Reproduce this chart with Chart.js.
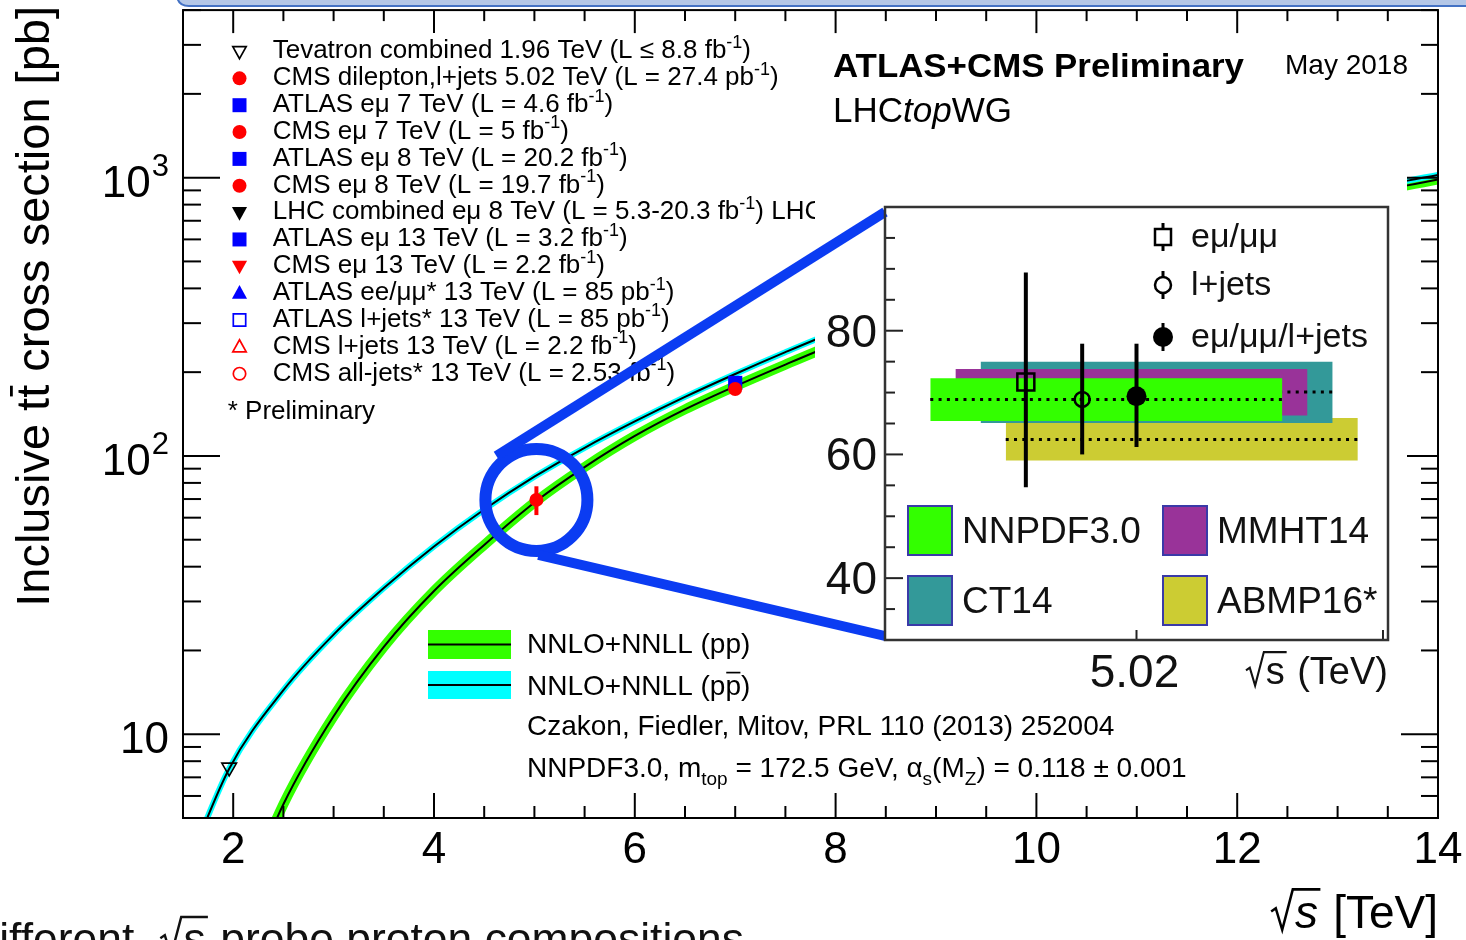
<!DOCTYPE html>
<html lang="en">
<head>
<meta charset="UTF-8">
<title>Inclusive ttbar cross section vs sqrt(s)</title>
<script src="https://cdn.jsdelivr.net/npm/chart.js"></script>
<style>
  html, body { margin: 0; padding: 0; background: #fff; overflow: hidden; }
  #wrap { position: relative; width: 1466px; height: 940px; }
  #mainChart { position: absolute; left: 0; top: 0; }
  #insetChart { position: absolute; left: 815px; top: 170px; }
</style>
</head>
<body>
<div id="wrap">
  <canvas id="mainChart" width="1466" height="940"></canvas>
  <canvas id="insetChart" width="592" height="530"></canvas>
</div>
<script>
// NNLO+NNLL predictions (sqrt(s) in TeV, sigma in pb)
var ppSqrtS = [2.0, 2.5, 3.0, 3.5, 4.0, 4.5, 5.02, 5.5, 6.0, 6.5, 7.0, 7.5, 8.0, 9.0, 10.0, 11.0, 12.0, 13.0, 14.0];
var ppXsec = [2.1, 5.6, 11.6, 20.6, 32.7, 47.9, 68.9, 91.2, 118, 147, 178, 213, 253, 345, 450, 566, 697, 838, 985];
var ppbarSqrtS = [1.5, 1.96, 2.5, 3.0, 3.5, 4.0, 4.5, 5.0, 5.5, 6.0, 6.5, 7.0, 7.5, 8.0, 9.0, 10.0, 11.0, 12.0, 13.0, 14.0];
var ppbarXsec = [3.05, 7.52, 14.4, 22.8, 33.5, 47.3, 64.2, 84.2, 107, 133, 163, 197, 236, 280, 378, 486, 605, 736, 875, 1023];

// measurements visible on the main plot
var tevSqrtS = [1.96], tevXsec = [7.6];
var cms502SqrtS = [5.02], cms502Xsec = [69.5], cms502Lo = [61.3], cms502Hi = [77.8];
var atlas7SqrtS = [7.0], atlas7Xsec = [183];
var cms7SqrtS = [7.0], cms7Xsec = [174];

// axes
var xMajorTicks = [2, 4, 6, 8, 10, 12, 14];
var xMinorStep = 0.5;
var yDecades = [1, 10, 100, 1000];
var yMajorTicks = [10, 100, 1000];
var yLabelBase = ['10', '10', '10'];
var yLabelExp = ['', '2', '3'];

// legend of the main plot
var legendLabels = [
  'Tevatron combined 1.96 TeV (L \u2264 8.8 fb^{-1})',
  'CMS dilepton,l+jets 5.02 TeV (L = 27.4 pb^{-1})',
  'ATLAS e\u03bc 7 TeV (L = 4.6 fb^{-1})',
  'CMS e\u03bc 7 TeV (L = 5 fb^{-1})',
  'ATLAS e\u03bc 8 TeV (L = 20.2 fb^{-1})',
  'CMS e\u03bc 8 TeV (L = 19.7 fb^{-1})',
  'LHC combined e\u03bc 8 TeV (L = 5.3-20.3 fb^{-1}) LHC',
  'ATLAS e\u03bc 13 TeV (L = 3.2 fb^{-1})',
  'CMS e\u03bc 13 TeV (L = 2.2 fb^{-1})',
  'ATLAS ee/\u03bc\u03bc* 13 TeV (L = 85 pb^{-1})',
  'ATLAS l+jets* 13 TeV (L = 85 pb^{-1})',
  'CMS l+jets 13 TeV (L = 2.2 fb^{-1})',
  'CMS all-jets* 13 TeV (L = 2.53 fb^{-1})'
];
var legendMarkers = ['triDownOpen', 'circle', 'square', 'circle', 'square', 'circle', 'triDown',
  'square', 'triDown', 'triUp', 'squareOpen', 'triUpOpen', 'circleOpen'];
var legendColors = ['#000', '#ff0000', '#0000ff', '#ff0000', '#0000ff', '#ff0000', '#000',
  '#0000ff', '#ff0000', '#0000ff', '#0000ff', '#ff0000', '#ff0000'];

// inset: PDF bands at 5.02 TeV
var pdfNames = ['ABMP16*', 'CT14', 'MMHT14', 'NNPDF3.0'];
var pdfColors = ['#cccc33', '#339999', '#993399', '#33ff00'];
var pdfXFrom = [4.76, 4.71, 4.66, 4.61];
var pdfXTo = [5.46, 5.41, 5.36, 5.31];
var pdfLow = [59.0, 65.1, 66.3, 65.4];
var pdfHigh = [65.9, 75.0, 73.8, 72.3];
var pdfCentral = [62.4, 70.1, 70.1, 68.9];

// inset: CMS 5.02 TeV measurements
var inNames = ['e\u03bc/\u03bc\u03bc', 'l+jets', 'e\u03bc/\u03bc\u03bc/l+jets'];
var inX = [4.80, 4.912, 5.02];
var inXsec = [71.7, 68.9, 69.4];
var inLo = [54.7, 60.0, 61.2];
var inHi = [89.4, 77.9, 77.9];
var inYLabels = [40, 60, 80];
var inXTicks = [5.02, 5.51];

var FONT = '"Liberation Sans", Arial, Helvetica, sans-serif';

function xy(xs, ys) {
  return xs.map(function (x, i) { return { x: x, y: ys[i] }; });
}

// tiny markup: ^{sup} _{sub} ~{overline} @{italic} #{radical} ${radical, italic}
function parseRich(str) {
  var segs = [], buf = '', i = 0;
  while (i < str.length) {
    var c = str[i];
    if ('^_~@#$'.indexOf(c) >= 0 && str[i + 1] === '{') {
      if (buf) { segs.push({ t: buf, k: 'n' }); buf = ''; }
      var j = str.indexOf('}', i);
      segs.push({ t: str.slice(i + 2, j), k: c });
      i = j + 1;
    } else { buf += c; i++; }
  }
  if (buf) segs.push({ t: buf, k: 'n' });
  return segs;
}

function drawRich(ctx, str, x, y, size, opt) {
  opt = opt || {};
  var w0 = opt.bold ? 'bold ' : '';
  var segs = parseRich(str);
  function fontFor(k) {
    if (k === '^' || k === '_') return w0 + Math.round(size * 0.68) + 'px ' + FONT;
    if (k === '@' || k === '$') return 'italic ' + w0 + size + 'px ' + FONT;
    return w0 + size + 'px ' + FONT;
  }
  var total = 0;
  segs.forEach(function (s) {
    ctx.font = fontFor(s.k);
    s.tw = ctx.measureText(s.t).width;
    s.w = (s.k === '#' || s.k === '$') ? s.tw + size * 0.6 : s.tw;
    total += s.w;
  });
  var sx = opt.width ? opt.width / total : 1;
  var start = x;
  if (opt.align === 'right') start = x - total * sx;
  if (opt.align === 'center') start = x - total * sx / 2;
  ctx.save();
  ctx.translate(start, y);
  ctx.scale(sx, 1);
  ctx.fillStyle = opt.color || '#000';
  ctx.strokeStyle = opt.color || '#000';
  ctx.textAlign = 'left';
  ctx.textBaseline = 'alphabetic';
  var cx = 0;
  segs.forEach(function (s) {
    ctx.font = fontFor(s.k);
    if (s.k === '#' || s.k === '$') {
      ctx.lineWidth = Math.max(1.5, size * 0.055);
      ctx.beginPath();
      ctx.moveTo(cx + size * 0.03, -size * 0.36);
      ctx.lineTo(cx + size * 0.13, -size * 0.43);
      ctx.lineTo(cx + size * 0.27, size * 0.04);
      ctx.lineTo(cx + size * 0.5, -size * 0.84);
      ctx.lineTo(cx + s.w, -size * 0.84);
      ctx.stroke();
      ctx.fillText(s.t, cx + size * 0.55, 0);
    } else {
      var dy = 0;
      if (s.k === '^') dy = -size * 0.4;
      if (s.k === '_') dy = size * 0.3;
      ctx.fillText(s.t, cx, dy);
      if (s.k === '~') {
        ctx.lineWidth = Math.max(1.5, size * 0.06);
        ctx.beginPath();
        ctx.moveTo(cx + size * 0.03, -size * 0.8);
        ctx.lineTo(cx + s.w - size * 0.02, -size * 0.8);
        ctx.stroke();
      }
    }
    cx += s.w;
  });
  ctx.restore();
  return total * sx;
}

function drawMarker(ctx, kind, x, y, color, r) {
  r = r || 7;
  var open = kind.indexOf('Open') > 0;
  var shape = kind.replace('Open', '');
  if (open) r -= 0.8;
  ctx.save();
  ctx.fillStyle = color;
  ctx.strokeStyle = color;
  ctx.lineWidth = 1.7;
  ctx.beginPath();
  if (shape === 'circle') ctx.arc(x, y, r, 0, Math.PI * 2);
  else if (shape === 'square') ctx.rect(x - r, y - r, 2 * r, 2 * r);
  else if (shape === 'triUp') {
    ctx.moveTo(x, y - r * 1.15); ctx.lineTo(x + r * 1.08, y + r * 0.8); ctx.lineTo(x - r * 1.08, y + r * 0.8); ctx.closePath();
  } else if (shape === 'triDown') {
    ctx.moveTo(x, y + r * 1.15); ctx.lineTo(x + r * 1.08, y - r * 0.8); ctx.lineTo(x - r * 1.08, y - r * 0.8); ctx.closePath();
  }
  if (open) ctx.stroke(); else ctx.fill();
  ctx.restore();
}

function seg(ctx, x0, y0, x1, y1) {
  ctx.beginPath(); ctx.moveTo(x0, y0); ctx.lineTo(x1, y1); ctx.stroke();
}

var mainDecor = {
  id: 'mainDecor',
  beforeDraw: function (chart) {
    var ctx = chart.ctx;
    ctx.save();
    ctx.fillStyle = '#fff';
    ctx.fillRect(0, 0, chart.width, chart.height);
    ctx.restore();
  },
  afterDraw: function (chart) {
    var ctx = chart.ctx, a = chart.chartArea, xs = chart.scales.x, ys = chart.scales.y;
    ctx.save();
    ctx.strokeStyle = '#000';
    ctx.lineWidth = 2;

    // x ticks, bottom and top
    for (var v = xs.min; v <= xs.max + 1e-6; v += xMinorStep) {
      var px = xs.getPixelForValue(v);
      var major = xMajorTicks.indexOf(Math.round(v * 100) / 100) >= 0;
      seg(ctx, px, a.bottom, px, a.bottom - (major ? 25 : 12));
      seg(ctx, px, a.top, px, a.top + (major ? 23 : 11));
    }
    // y ticks, left and right
    yDecades.forEach(function (d) {
      for (var m = 1; m <= 9; m++) {
        var val = m * d;
        if (val < ys.min || val > ys.max) continue;
        var py = ys.getPixelForValue(val);
        seg(ctx, a.left, py, a.left + (m === 1 ? 37 : 18), py);
        seg(ctx, a.right, py, a.right - (m === 1 ? 37 : 17), py);
      }
    });
    ctx.strokeRect(a.left, a.top, a.right - a.left, a.bottom - a.top);

    // tick labels
    ctx.fillStyle = '#000';
    ctx.textBaseline = 'alphabetic';
    xMajorTicks.forEach(function (t) {
      ctx.font = '44px ' + FONT;
      ctx.textAlign = 'center';
      ctx.fillText(String(t), xs.getPixelForValue(t), 863);
    });
    yMajorTicks.forEach(function (t, i) {
      var py = ys.getPixelForValue(t);
      ctx.font = '31px ' + FONT;
      var ew = yLabelExp[i] ? ctx.measureText(yLabelExp[i]).width : 0;
      ctx.font = '44px ' + FONT;
      ctx.textAlign = 'right';
      ctx.fillText(yLabelBase[i], 169 - ew - (ew ? 1 : 0), py + 19);
      if (ew) {
        ctx.font = '31px ' + FONT;
        ctx.textAlign = 'left';
        ctx.fillText(yLabelExp[i], 169 - ew, py - 2);
      }
    });

    // axis titles
    ctx.save();
    ctx.translate(49, 6);
    ctx.rotate(-Math.PI / 2);
    drawRich(ctx, 'Inclusive t~{t} cross section [pb]', 0, 0, 47, { align: 'right' });
    ctx.restore();
    drawRich(ctx, '${s} [TeV]', 1438, 928, 46, { align: 'right' });

    // legend of measurements
    legendLabels.forEach(function (t, i) {
      var cy = 51.5 + 26.85 * i;
      drawMarker(ctx, legendMarkers[i], 239.5, cy, legendColors[i], 7);
      drawRich(ctx, t, 272.7, cy + 6.8, 26);
    });
    drawRich(ctx, '* Preliminary', 227.7, 419, 26);

    // header
    drawRich(ctx, 'ATLAS+CMS Preliminary', 833, 77, 33, { bold: true, width: 411 });
    drawRich(ctx, 'May 2018', 1285, 74, 28);
    drawRich(ctx, 'LHC@{top}WG', 833, 122, 35);

    // theory legend
    ctx.fillStyle = '#33ff00';
    ctx.fillRect(428, 630, 83, 29);
    ctx.fillStyle = '#00ffff';
    ctx.fillRect(428, 671, 83, 28);
    ctx.lineWidth = 2;
    seg(ctx, 428, 644.5, 511, 644.5);
    seg(ctx, 428, 685, 511, 685);
    drawRich(ctx, 'NNLO+NNLL (pp)', 527, 653, 28);
    drawRich(ctx, 'NNLO+NNLL (p~{p})', 527, 695, 28);
    drawRich(ctx, 'Czakon, Fiedler, Mitov, PRL 110 (2013) 252004', 527, 735, 28);
    drawRich(ctx, 'NNPDF3.0, m_{top} = 172.5 GeV, \u03b1_{s}(M_{Z}) = 0.118 \u00b1 0.001', 527, 777, 28);

    // white pad behind the inset
    ctx.fillStyle = '#fff';
    ctx.fillRect(815, 170, 592, 530);

    // zoom lens around the 5.02 TeV point
    var cx = xs.getPixelForValue(cms502SqrtS[0]), cy = ys.getPixelForValue(cms502Xsec[0]);
    ctx.strokeStyle = '#0b3cf2';
    ctx.lineWidth = 12;
    ctx.beginPath();
    ctx.arc(cx, cy, 51, 0, Math.PI * 2);
    ctx.stroke();
    ctx.lineWidth = 10;
    seg(ctx, cx - 40, cy - 44, 885, 212);
    seg(ctx, cx + 2, cy + 55, 885, 636);

    // slide header strip and caption cut by the window
    var x0 = 177, y1 = 6, r = 12;
    ctx.beginPath();
    ctx.moveTo(x0, -30); ctx.lineTo(1500, -30); ctx.lineTo(1500, y1); ctx.lineTo(x0 + r, y1);
    ctx.quadraticCurveTo(x0, y1, x0, y1 - r); ctx.closePath();
    ctx.fillStyle = '#b4c7e7';
    ctx.fill();
    ctx.strokeStyle = '#4472c4';
    ctx.lineWidth = 2;
    ctx.stroke();

    ctx.font = '44px ' + FONT;
    var dW = ctx.measureText('d').width;
    drawRich(ctx, 'different  #{s} probe proton compositions', -dW - 1, 954, 44, { color: '#111', width: 745 + dW });
    ctx.restore();
  }
};

new Chart(document.getElementById('mainChart'), {
  type: 'line',
  data: {
    datasets: [
      { label: 'NNLO+NNLL (pp) band', data: xy(ppSqrtS, ppXsec), borderColor: '#33ff00', borderWidth: 10,
        pointRadius: 0, cubicInterpolationMode: 'monotone', clip: 0, order: 10 },
      { label: 'NNLO+NNLL (ppbar) band', data: xy(ppbarSqrtS, ppbarXsec), borderColor: '#00ffff', borderWidth: 6,
        pointRadius: 0, cubicInterpolationMode: 'monotone', clip: 0, order: 9 },
      { label: 'NNLO+NNLL (pp)', data: xy(ppSqrtS, ppXsec), borderColor: '#000', borderWidth: 2,
        pointRadius: 0, cubicInterpolationMode: 'monotone', clip: 0, order: 8 },
      { label: 'NNLO+NNLL (ppbar)', data: xy(ppbarSqrtS, ppbarXsec), borderColor: '#000', borderWidth: 2,
        pointRadius: 0, cubicInterpolationMode: 'monotone', clip: 0, order: 7 },
      { label: 'CMS 5.02 error', data: [{ x: cms502SqrtS[0], y: cms502Lo[0] }, { x: cms502SqrtS[0], y: cms502Hi[0] }],
        borderColor: '#ff0000', borderWidth: 4, pointRadius: 0, order: 4 },
      { label: 'Tevatron', data: xy(tevSqrtS, tevXsec), showLine: false, pointStyle: 'triangle', pointRotation: 180,
        pointRadius: 8.5, pointBorderWidth: 1.6, pointBorderColor: '#000', pointBackgroundColor: 'rgba(0,0,0,0)', order: 2 },
      { label: 'ATLAS 7', data: xy(atlas7SqrtS, atlas7Xsec), showLine: false, pointStyle: 'rect',
        pointRadius: 10, pointBorderWidth: 0, pointBackgroundColor: '#0000ff', order: 3 },
      { label: 'CMS 7', data: xy(cms7SqrtS, cms7Xsec), showLine: false, pointStyle: 'circle',
        pointRadius: 7, pointBorderWidth: 0, pointBackgroundColor: '#ff0000', order: 1 },
      { label: 'CMS 5.02', data: xy(cms502SqrtS, cms502Xsec), showLine: false, pointStyle: 'circle',
        pointRadius: 7, pointBorderWidth: 0, pointBackgroundColor: '#ff0000', order: 1 }
    ]
  },
  options: {
    responsive: false,
    animation: false,
    devicePixelRatio: 1,
    events: [],
    layout: { padding: { left: 183, top: 8, right: 28, bottom: 122 } },
    scales: {
      x: { type: 'linear', min: 1.5, max: 14, display: false },
      y: { type: 'logarithmic', min: 5, max: 4000, display: false }
    },
    plugins: { legend: { display: false }, tooltip: { enabled: false } }
  },
  plugins: [mainDecor]
});

// inset chart
var OX = 815, OY = 170;
var insetSets = [];
pdfNames.forEach(function (n, i) {
  var base = 40 - i * 3;
  insetSets.push({ label: n + ' high', data: [{ x: pdfXFrom[i], y: pdfHigh[i] }, { x: pdfXTo[i], y: pdfHigh[i] }],
    borderColor: 'rgba(0,0,0,0)', borderWidth: 0, pointRadius: 0, backgroundColor: pdfColors[i], fill: '+1', order: base });
  insetSets.push({ label: n + ' low', data: [{ x: pdfXFrom[i], y: pdfLow[i] }, { x: pdfXTo[i], y: pdfLow[i] }],
    borderColor: 'rgba(0,0,0,0)', borderWidth: 0, pointRadius: 0, fill: false, order: base - 1 });
  insetSets.push({ label: n + ' central', data: [{ x: pdfXFrom[i], y: pdfCentral[i] }, { x: pdfXTo[i], y: pdfCentral[i] }],
    borderColor: '#000', borderWidth: 3, borderDash: [3, 5.3], borderCapStyle: 'butt', pointRadius: 0, fill: false, order: base - 2 });
});
inNames.forEach(function (n, i) {
  insetSets.push({ label: n + ' error', data: [{ x: inX[i], y: inLo[i] }, { x: inX[i], y: inHi[i] }],
    borderColor: '#000', borderWidth: 4, pointRadius: 0, fill: false, order: 5 });
});
var inStyles = [
  { pointStyle: 'rect', pointRadius: 12, pointBackgroundColor: 'rgba(0,0,0,0)', pointBorderWidth: 2.5 },
  { pointStyle: 'circle', pointRadius: 7.5, pointBackgroundColor: 'rgba(0,0,0,0)', pointBorderWidth: 2.5 },
  { pointStyle: 'circle', pointRadius: 10, pointBackgroundColor: '#000', pointBorderWidth: 0 }
];
inNames.forEach(function (n, i) {
  insetSets.push(Object.assign({ label: n, data: [{ x: inX[i], y: inXsec[i] }], showLine: false,
    pointBorderColor: '#000', order: 1 }, inStyles[i]));
});

var insetDecor = {
  id: 'insetDecor',
  afterDraw: function (chart) {
    var ctx = chart.ctx, a = chart.chartArea, xs = chart.scales.x, ys = chart.scales.y;
    ctx.save();
    ctx.strokeStyle = '#222';
    ctx.lineWidth = 2;
    for (var v = 35; v < ys.max; v += 5) {
      var py = ys.getPixelForValue(v);
      seg(ctx, a.left, py, a.left + (inYLabels.indexOf(v) >= 0 ? 18 : 10), py);
    }
    inXTicks.forEach(function (t) {
      var px = xs.getPixelForValue(t);
      seg(ctx, px, a.bottom, px, a.bottom - 10);
    });
    ctx.strokeStyle = '#333';
    ctx.lineWidth = 2.5;
    ctx.strokeRect(a.left, a.top, a.right - a.left, a.bottom - a.top);

    ctx.fillStyle = '#111';
    ctx.font = '46px ' + FONT;
    ctx.textAlign = 'right';
    inYLabels.forEach(function (t) {
      ctx.fillText(String(t), a.left - 8, ys.getPixelForValue(t) + 16);
    });
    ctx.textAlign = 'center';
    ctx.fillText('5.02', xs.getPixelForValue(inXTicks[0]) - 2, a.bottom + 47);
    drawRich(ctx, '#{s} (TeV)', a.right, a.bottom + 44, 38, { align: 'right', color: '#111' });

    // legend of measurements
    var lx = 1163 - OX;
    var rows = [237 - OY, 285 - OY, 337 - OY];
    ctx.strokeStyle = '#000';
    ctx.lineWidth = 3;
    rows.forEach(function (ry, i) {
      seg(ctx, lx, ry - 14, lx, ry + 14);
      drawRich(ctx, inNames[i], 1191 - OX, ry + 10, 34, { color: '#111' });
    });
    ctx.lineWidth = 2.5;
    ctx.fillStyle = '#fff';
    ctx.fillRect(lx - 8, rows[0] - 8, 16, 16);
    ctx.strokeRect(lx - 8, rows[0] - 8, 16, 16);
    ctx.beginPath(); ctx.arc(lx, rows[1], 8, 0, Math.PI * 2); ctx.fill(); ctx.stroke();
    ctx.fillStyle = '#000';
    ctx.beginPath(); ctx.arc(lx, rows[2], 10, 0, Math.PI * 2); ctx.fill();

    // legend of PDF sets
    var cells = { 'NNPDF3.0': [908, 506], 'MMHT14': [1163, 506], 'CT14': [908, 576], 'ABMP16*': [1163, 576] };
    pdfNames.forEach(function (n, i) {
      var c = cells[n];
      ctx.fillStyle = pdfColors[i];
      ctx.fillRect(c[0] - OX, c[1] - OY, 44, 49);
      ctx.strokeStyle = '#3a3aa8';
      ctx.lineWidth = 2;
      ctx.strokeRect(c[0] - OX, c[1] - OY, 44, 49);
      drawRich(ctx, n, c[0] + 54 - OX, c[1] + 37 - OY, 37, { color: '#111' });
    });
    ctx.restore();
  }
};

new Chart(document.getElementById('insetChart'), {
  type: 'line',
  data: { datasets: insetSets },
  options: {
    responsive: false,
    animation: false,
    devicePixelRatio: 1,
    events: [],
    layout: { padding: { left: 70, top: 37, right: 19, bottom: 60 } },
    scales: {
      x: { type: 'linear', min: 4.52, max: 5.52, display: false },
      y: { type: 'linear', min: 30, max: 100, display: false }
    },
    plugins: { legend: { display: false }, tooltip: { enabled: false } }
  },
  plugins: [insetDecor]
});
</script>
</body>
</html>
